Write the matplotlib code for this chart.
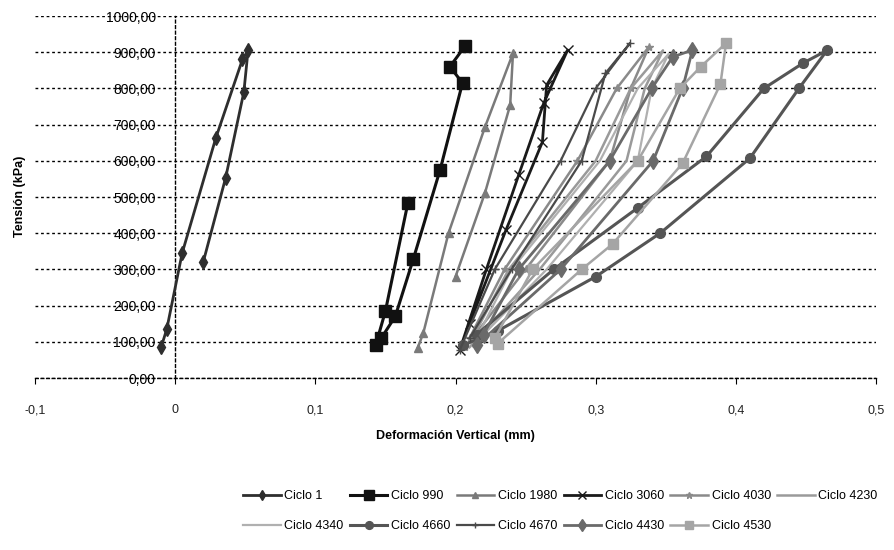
import matplotlib
matplotlib.use("Agg")
import matplotlib.pyplot as plt

plt.rcParams['font.family'] = ['Liberation Sans', 'DejaVu Sans']

series_names = ["Ciclo 1", "Ciclo 990", "Ciclo 1980", "Ciclo 3060", "Ciclo 4030", "Ciclo 4230",
                "Ciclo 4340", "Ciclo 4660", "Ciclo 4670", "Ciclo 4430", "Ciclo 4530"]

x_c1 = [-0.010, -0.006, 0.005, 0.029, 0.048, 0.052, 0.049, 0.036, 0.020]
y_c1 = [85, 135, 345, 663, 880, 905, 790, 553, 320]

x_c990 = [0.166, 0.150, 0.143, 0.147, 0.157, 0.170, 0.189, 0.205, 0.196, 0.207]
y_c990 = [483, 185, 90, 110, 170, 330, 575, 815, 860, 918]

x_c1980 = [0.173, 0.177, 0.195, 0.221, 0.241, 0.239, 0.221, 0.200]
y_c1980 = [83, 124, 400, 693, 897, 754, 511, 280]

x_c3060 = [0.203, 0.222, 0.245, 0.263, 0.280, 0.265, 0.262, 0.236, 0.210]
y_c3060 = [77, 300, 560, 760, 906, 809, 652, 409, 150]

x_c4030 = [0.207, 0.250, 0.310, 0.325, 0.338, 0.315, 0.287, 0.235, 0.210]
y_c4030 = [85, 300, 600, 800, 915, 800, 600, 300, 110]

x_c4230 = [0.210, 0.260, 0.322, 0.335, 0.348, 0.325, 0.300, 0.238, 0.212]
y_c4230 = [85, 300, 600, 800, 905, 800, 600, 300, 110]

x_c4340 = [0.212, 0.265, 0.330, 0.340, 0.352, 0.330, 0.303, 0.240, 0.215]
y_c4340 = [88, 300, 600, 800, 895, 800, 600, 300, 110]

x_c4660 = [0.205, 0.230, 0.300, 0.346, 0.410, 0.445, 0.465, 0.448, 0.420, 0.379, 0.330, 0.270, 0.215]
y_c4660 = [90, 130, 280, 400, 607, 800, 905, 870, 800, 612, 470, 300, 120]

x_c4670 = [0.203, 0.228, 0.275, 0.300, 0.3245, 0.307, 0.290, 0.240, 0.210]
y_c4670 = [77, 300, 600, 800, 925, 842, 600, 300, 110]

x_c4430 = [0.215, 0.275, 0.341, 0.362, 0.369, 0.355, 0.340, 0.310, 0.245, 0.220]
y_c4430 = [90, 300, 600, 800, 906, 887, 800, 600, 300, 120]

x_c4530 = [0.230, 0.290, 0.312, 0.362, 0.389, 0.393, 0.375, 0.360, 0.330, 0.255, 0.228]
y_c4530 = [95, 300, 370, 593, 812, 925, 860, 800, 600, 300, 110]

series_x = [x_c1, x_c990, x_c1980, x_c3060, x_c4030, x_c4230, x_c4340, x_c4660, x_c4670, x_c4430, x_c4530]
series_y = [y_c1, y_c990, y_c1980, y_c3060, y_c4030, y_c4230, y_c4340, y_c4660, y_c4670, y_c4430, y_c4530]

colors = ['#2e2e2e', '#111111', '#7a7a7a', '#1a1a1a', '#8a8a8a', '#9a9a9a',
          '#b0b0b0', '#555555', '#4a4a4a', '#6a6a6a', '#a5a5a5']
markers = ['d', 's', '^', 'x', '*', 'None', 'None', 'o', '+', 'd', 's']
msizes = [7, 9, 6, 7, 6, 0, 0, 7, 6, 8, 7]
lwidths = [2.0, 2.2, 1.8, 2.0, 1.8, 1.8, 1.6, 2.2, 1.6, 2.0, 1.8]

fig = plt.figure(figsize=(8.95, 5.5), dpi=100)
ax = fig.add_axes([0.0391, 0.3127, 0.9397, 0.6582])

handles = []
for xs, ys, c, m, ms, lw, name in zip(series_x, series_y, colors, markers, msizes, lwidths, series_names):
    h, = ax.plot(xs, ys, color=c, marker=m, markersize=ms, linewidth=lw,
                 markeredgecolor=c, markerfacecolor=c, label=name, zorder=3)
    handles.append(h)

ax.set_xlim(-0.1, 0.5)
ax.set_ylim(0, 1000)
xticks = [-0.1, 0, 0.1, 0.2, 0.3, 0.4, 0.5]
xtick_labels = ["-0,1", "0", "0,1", "0,2", "0,3", "0,4", "0,5"]
yticks = [0, 100, 200, 300, 400, 500, 600, 700, 800, 900, 1000]
ytick_labels = ["0,00", "100,00", "200,00", "300,00", "400,00", "500,00",
                "600,00", "700,00", "800,00", "900,00", "1000,00"]
ax.set_xticks(xticks)
ax.set_xticklabels(xtick_labels, fontsize=9, color='#222222')
ax.set_yticks(yticks)
ax.set_yticklabels(ytick_labels, fontsize=9, color='#222222')

for s in ['top', 'right']:
    ax.spines[s].set_visible(False)
ax.spines['left'].set_position(('data', 0))
ax.spines['left'].set_linestyle((0, (2, 2)))
ax.spines['left'].set_linewidth(1.0)
ax.spines['bottom'].set_linestyle((0, (2, 2)))
ax.spines['bottom'].set_linewidth(1.0)
ax.tick_params(axis='y', length=0, pad=14)
ax.tick_params(axis='x', length=4, pad=15, direction='out')

ax.yaxis.grid(True, linestyle=(0, (2, 2)), color='black', linewidth=1.0)
ax.set_axisbelow(True)

ax.set_xlabel("Deformación Vertical (mm)", fontsize=9, fontweight='bold', labelpad=10)
fig.text(20 / 895, 1 - 196 / 550, "Tensión (kPa)", rotation=90, fontsize=9,
         fontweight='bold', ha='center', va='center')

row1 = handles[:6]
row2 = handles[6:]
ordered = []
for k in range(6):
    ordered.append(row1[k])
    if k < len(row2):
        ordered.append(row2[k])
leg = fig.legend(handles=ordered, labels=[h.get_label() for h in ordered],
                 ncol=6, loc='center', bbox_to_anchor=(0.626, 1 - 511 / 550),
                 frameon=False, fontsize=9, handlelength=3.0, columnspacing=0.5,
                 handletextpad=0.3, labelspacing=1.45, borderaxespad=0, markerscale=0.8)

fig.savefig("out.png", dpi=100)
